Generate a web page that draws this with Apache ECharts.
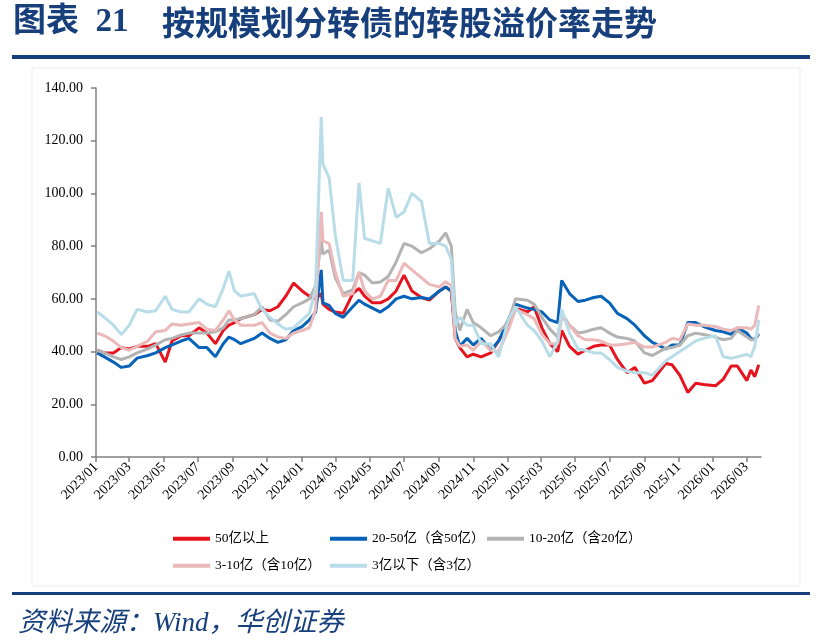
<!DOCTYPE html>
<html>
<head>
<meta charset="utf-8">
<script src="https://cdn.jsdelivr.net/npm/echarts@6/dist/echarts.min.js"></script>
<style>
  html, body {margin: 0; padding: 0; background: #fff;}
  #chart {width: 822px; height: 642px;}
</style>
</head>
<body>
<div id="chart"></div>
<script>
// trading dates sampled along the x axis
const dates = [
  '2023-01-03','2023-01-16','2023-02-01','2023-02-15','2023-03-01','2023-03-15','2023-04-03','2023-04-17','2023-05-04','2023-05-16',
  '2023-06-01','2023-06-15','2023-07-03','2023-07-17','2023-08-01','2023-08-15','2023-08-25','2023-09-04','2023-09-15','2023-10-09',
  '2023-10-23','2023-11-06','2023-11-20','2023-12-04','2023-12-18','2024-01-02','2024-01-15','2024-01-26','2024-02-05','2024-02-08',
  '2024-02-19','2024-03-01','2024-03-15','2024-04-01','2024-04-12','2024-04-22','2024-05-06','2024-05-20','2024-06-03','2024-06-17',
  '2024-07-01','2024-07-15','2024-08-01','2024-08-15','2024-09-02','2024-09-13','2024-09-23','2024-09-30','2024-10-08','2024-10-21',
  '2024-11-01','2024-11-15','2024-12-02','2024-12-16','2025-01-02','2025-01-15','2025-02-05','2025-02-17','2025-03-03','2025-03-17',
  '2025-03-31','2025-04-07','2025-04-21','2025-05-06','2025-05-19','2025-06-03','2025-06-16','2025-07-01','2025-07-15','2025-08-01',
  '2025-08-15','2025-09-01','2025-09-15','2025-10-09','2025-10-20','2025-11-03','2025-11-17','2025-12-01','2025-12-15','2026-01-05',
  '2026-01-19','2026-02-02','2026-02-13','2026-03-02','2026-03-09','2026-03-16','2026-03-23'
];

// 50亿以上
const over50 = [
  40.5, 39.5, 39.5, 41.5, 41, 42, 42, 43, 36, 44,
  46, 46, 49, 47, 43, 48, 50, 51, 52.5, 54,
  56, 55.5, 57, 61, 66, 63, 61, 60, 62, 58,
  56, 55, 54.5, 62, 64, 61, 58.5, 58.5, 60, 63,
  69, 63, 60.5, 59.5, 63, 64.5, 63, 45, 41.5, 38,
  39, 38, 39.5, 44, 50, 56.5, 55, 57, 49, 43,
  40, 48, 42, 39, 40.5, 42, 42.5, 42.5, 37, 32,
  34, 28, 29, 35.5, 35, 31, 24.5, 28, 27.5, 27,
  29.5, 34.5, 34.5, 29, 33, 30.5, 35
];
// 20-50亿（含50亿）
const from20to50 = [
  39.5, 38, 36, 34, 34.5, 37.5, 38.5, 39.5, 41.5, 42.5,
  44, 45, 41.5, 41.5, 38, 43, 45.5, 44.5, 43, 45,
  47, 45, 43.5, 44.5, 48, 49.5, 52, 55, 71, 58.5,
  57.5, 54.5, 53, 57, 59.5, 58, 56.5, 55, 57, 60,
  61, 60, 60.5, 60, 63, 64.5, 63, 48, 42, 45,
  42.5, 45, 40.5, 44, 52, 58, 56.5, 56, 55, 52,
  51, 67, 62, 59, 59.5, 60.5, 61, 58.5, 54.5, 52.5,
  50, 46, 43.5, 41, 42.5, 42.5, 51, 51, 49.5, 48,
  47.5, 46.5, 49, 47, 45, 44.5, 46.5
];
// 10-20亿（含20亿）
const from10to20 = [
  40.5, 39.5, 38, 37, 38, 39.5, 41, 42.5, 44.5, 45,
  46.3, 47, 47, 47, 47.5, 49, 52, 52, 52.5, 54,
  57, 52, 51.5, 54, 57, 58.5, 60, 65, 82, 77,
  78.5, 68, 62, 63.5, 70, 69, 66, 66.4, 68.5, 74,
  81, 80, 77.5, 79, 82, 85, 80, 55, 48, 56,
  51, 49, 46, 47.5, 51, 60, 59.5, 58, 53, 48.5,
  45.5, 54.5, 50, 47, 47.5, 48.5, 49, 47, 45.5, 45,
  44, 39.5, 38.5, 41.3, 41.5, 42.5, 46, 47, 46.5, 45.5,
  44.5, 45, 48, 45.5, 44.5, 44.5, 47
];
// 3-10亿（含10亿）
const from3to10 = [
  47, 46, 44, 41.5, 40.5, 42, 44, 47.5, 48, 50.5,
  50, 50.5, 51, 48.5, 48, 52, 55.5, 52, 50, 50,
  51, 47, 45.5, 45, 47, 48, 49, 56, 93, 82,
  81, 70, 61, 62, 70, 63, 60, 61, 67, 67,
  73.5, 71, 68, 65.5, 64.5, 66.5, 65, 45, 42, 42.5,
  40.5, 44, 40.5, 40, 48, 56, 54, 52.5, 46.5, 43,
  43, 53, 50, 46, 44.5, 44.5, 44, 42.5, 42.5, 43,
  43.5, 41.7, 41.7, 43.5, 45, 44.5, 50.5, 50, 50, 49.5,
  48.5, 48, 49, 49, 48.5, 50, 57.5
];
// 3亿以下（含3亿）
const under3 = [
  55, 53, 50, 46.5, 50, 56, 55, 55.5, 61, 56,
  55, 55, 60, 58, 57, 64, 70.5, 63, 61, 62,
  56, 53, 50.5, 48.5, 49, 52, 54.5, 64, 129, 111,
  106, 84, 67, 67, 104, 83, 82, 81, 102, 91,
  93, 100, 97, 81, 81, 80, 75, 50, 53, 50,
  50, 43, 43, 38, 52, 57, 50, 48, 44, 38,
  44, 56, 47, 41, 40.5, 39.5, 39.5, 37, 34, 32.5,
  32, 32, 31, 36.5, 38, 40, 42, 44, 45, 46,
  38, 37.5, 38, 39, 38, 42, 52
];

const seriesNames = ['50亿以上', '20-50亿（含50亿）', '10-20亿（含20亿）', '3-10亿（含10亿）', '3亿以下（含3亿）'];
const seriesColors = ['#e5141f', '#0763b8', '#b3b3b3', '#ebb9b9', '#b8dde9'];
const seriesValues = [over50, from20to50, from10to20, from3to10, under3];

// x axis tick labels
const tickMonths = [
  '2023/01','2023/03','2023/05','2023/07','2023/09','2023/11',
  '2024/01','2024/03','2024/05','2024/07','2024/09','2024/11',
  '2025/01','2025/03','2025/05','2025/07','2025/09','2025/11',
  '2026/01','2026/03'
];

const toTime = s => +echarts.number.parseDate(s);
const tickTimes = tickMonths.map(m => toTime(m.replace('/', '-') + '-01'));

const navy = '#173f7c';
const serif = '"Liberation Serif", "Times New Roman", "Noto Sans CJK SC"';

const myChart = echarts.init(document.getElementById('chart'));

// one legend block per item, laid out in two rows
const legendSpots = [[168, 527], [325, 527], [482, 527], [168, 554], [325, 554]];

myChart.setOption({
  animation: false,
  backgroundColor: '#fff',
  grid: {left: 96, right: 61, top: 88, bottom: 185},
  graphic: [
    {type: 'text', left: 13, top: 6, style: {text: '图表  21', font: 'bold 33px ' + serif, fill: navy}},
    {type: 'text', left: 162, top: 6, style: {text: '按规模划分转债的转股溢价率走势', font: 'bold 33px "Noto Sans CJK SC"', fill: navy}},
    {type: 'rect', shape: {x: 12, y: 55, width: 798, height: 4}, style: {fill: navy}},
    {type: 'rect', shape: {x: 32, y: 68, width: 768, height: 518}, style: {fill: 'none', stroke: '#ececec', lineWidth: 1}},
    {type: 'rect', shape: {x: 12, y: 592, width: 798, height: 3}, style: {fill: navy}},
    {type: 'text', left: 18, top: 610, style: {text: '资料来源：Wind，华创证券', font: 'italic 27px ' + serif, fill: navy}}
  ],
  legend: legendSpots.map((p, i) => ({
    data: [seriesNames[i]],
    left: p[0],
    top: p[1],
    icon: 'rect',
    itemWidth: 37,
    itemHeight: 4,
    itemGap: 0,
    selectedMode: false,
    textStyle: {fontFamily: serif, fontSize: 13.5, color: '#000'}
  })),
  xAxis: {
    type: 'value',
    min: toTime('2023-01-01'),
    max: toTime('2026-03-27'),
    splitLine: {show: false},
    axisLine: {lineStyle: {color: '#808080', width: 1.5}},
    axisTick: {show: true, customValues: tickTimes, length: 5, lineStyle: {color: '#808080', width: 1.5}},
    axisLabel: {
      customValues: tickTimes,
      rotate: 45,
      margin: 8,
      color: '#000',
      fontFamily: serif,
      fontSize: 14,
      formatter: v => tickMonths[tickTimes.indexOf(v)] || ''
    }
  },
  yAxis: {
    type: 'value',
    min: 0,
    max: 140,
    interval: 20,
    splitLine: {show: false},
    axisLine: {show: true, lineStyle: {color: '#808080', width: 1.5}},
    axisTick: {show: true, length: 5, lineStyle: {color: '#808080', width: 1.5}},
    axisLabel: {
      margin: 13,
      color: '#000',
      fontFamily: serif,
      fontSize: 14,
      formatter: v => v.toFixed(2)
    }
  },
  series: seriesNames.map((name, i) => ({
    name: name,
    type: 'line',
    showSymbol: false,
    color: seriesColors[i],
    lineStyle: {width: 3, color: seriesColors[i]},
    data: dates.map((d, k) => [toTime(d), seriesValues[i][k]])
  }))
});
</script>
</body>
</html>
